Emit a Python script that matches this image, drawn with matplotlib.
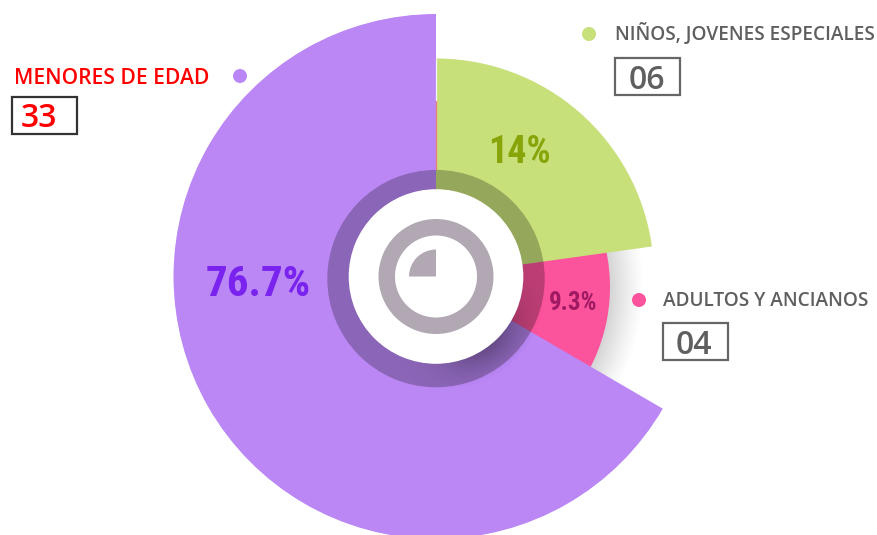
import numpy as np
import matplotlib
matplotlib.use("Agg")
import matplotlib.pyplot as plt
from matplotlib import font_manager as fm
from matplotlib.patches import Rectangle, Circle

# Data
categories = ["NIÑOS, JOVENES ESPECIALES", "ADULTOS Y ANCIANOS", "MENORES DE EDAD"]
counts = ["06", "04", "33"]
percent_labels = ["14%", "9.3%", "76.7%"]
slice_shares = [22.8, 10.6, 66.6]      # angular share of each sector
slice_radii = [218, 174, 262.5]        # radius of each sector
colors = ["#C8E07A", "#FB539C", "#BA87F5"]
percent_colors = ["#87A408", "#A01A63", "#7A22EE"]
count_colors = ["#5F5F5F", "#5F5F5F", "#FF0000"]
label_colors = ["#5F5F5F", "#5F5F5F", "#FF0000"]
box_edges = ["#666666", "#666666", "#333333"]

W, H = 878, 535
CX, CY, RMAX = 436, 276.5, 263
PINK_CY = 287
RING_CY = 278.6
installed = {f.name for f in fm.fontManager.ttflist}


def pick(*names):
    return next((n for n in names if n in installed), "DejaVu Sans")


narrow = pick("Roboto Condensed", "Fjalla One", "Francois One", "Asap Condensed", "Liberation Sans")
sans = pick("Selawik", "Segoe UI", "Open Sans")

fig = plt.figure(figsize=(W / 100, H / 100), dpi=100, facecolor="white")


def polar_layer(z, cy=CY):
    a = fig.add_axes([(CX - RMAX) / W, (H - cy - RMAX) / H, 2 * RMAX / W, 2 * RMAX / H],
                     projection="polar", zorder=z)
    a.set_theta_zero_location("N")
    a.set_theta_direction(-1)
    a.set_ylim(0, RMAX)
    a.axis("off")
    a.patch.set_alpha(0)
    return a


def pixel_layer(z):
    a = fig.add_axes([0, 0, 1, 1], facecolor="none", zorder=z)
    a.set_xlim(0, W)
    a.set_ylim(H, 0)
    a.axis("off")
    return a


def shade(a, alpha):
    img = np.zeros((H, W, 4))
    img[..., 3] = alpha
    a.imshow(img, extent=(0, W, H, 0), aspect="auto", interpolation="bilinear")
    a.set_xlim(0, W)
    a.set_ylim(H, 0)


yy, xx = np.mgrid[0:H, 0:W] + 0.5
dist = np.hypot(xx - CX, yy - CY)
ang = np.degrees(np.arctan2(xx - CX, CY - yy)) % 360
dist_p = np.hypot(xx - CX, yy - PINK_CY)

# soft shadow behind the pink sector
back = pixel_layer(0)
shade(back, 0.17 * np.clip((209 - dist_p) / 35, 0, 1) ** 1.2 * ((ang > 70) & (ang < 130)))

shares = np.array(slice_shares)
widths = 2 * np.pi * shares / shares.sum()
starts = np.concatenate([[0], np.cumsum(widths)[:-1]])

# the pink sector sits on a slightly lower centre; its neighbours overlap its sides
pink_ax = polar_layer(0.5, PINK_CY)
pad = np.radians(8)
pink_ax.bar(starts[1] - pad, slice_radii[1], width=widths[1] + 2 * pad, bottom=0,
            align="edge", color=colors[1], linewidth=0)

ax = polar_layer(1)
for i in (0, 2):
    ax.bar(starts[i], slice_radii[i], width=widths[i], bottom=0, align="edge",
           color=colors[i], linewidth=0)

# thin seam at the top of the chart
ax.plot([0, 0], [108, 177], color="#E8807F", lw=0.9)
ax.plot([0, 0], [177, 218], color="#F4F4F4", lw=0.9)

# translucent ring
ring = polar_layer(1.5, RING_CY)
ring.bar(0, 108.7 - 80, width=2 * np.pi, bottom=80, color="black", alpha=0.25, linewidth=0)

# inner shadow, lower right
mid = pixel_layer(2)
shade(mid, 0.27 * np.exp(-((ang - 142) / 30) ** 2) * np.clip((117 - dist) / 30, 0, 1) ** 1.3)

# white hub and its icon
hub = polar_layer(3)
hub.bar(0, 87.3, width=2 * np.pi, bottom=0, color="white", linewidth=0)
hub.bar(0, 57.5 - 41, width=2 * np.pi, bottom=41, color="#B1A8B3", linewidth=0)
hub.bar(1.5 * np.pi, 27, width=0.5 * np.pi, bottom=0, align="edge", color="#B1A8B3", linewidth=0)

# overlay in pixel coordinates
ov = pixel_layer(4)
PX = 0.72
pct_pos = [(519, 148.5, 38), (573.5, 300.5, 25), (258, 280.5, 43)]
for lab, c, (x, y, s) in zip(percent_labels, percent_colors, pct_pos):
    ov.text(x, y, lab, color=c, fontsize=s * PX, fontweight=800, family=narrow,
            ha="center", va="center_baseline")

label_pos = [(615, 32, 19.0), (663, 299, 19.0), (14, 76, 21.0)]
for lab, c, (x, y, s) in zip(categories, label_colors, label_pos):
    ov.text(x, y, lab, color=c, fontsize=s * PX, fontweight="semibold", family=sans,
            ha="left", va="center_baseline")

dot_pos = [(589, 34), (639, 300), (240, 76)]
for c, xy in zip(colors, dot_pos):
    ov.add_patch(Circle(xy, 7, facecolor=c, edgecolor="none"))

box_pos = [(615, 58), (663, 323), (12, 97)]
for ec, (x, y) in zip(box_edges, box_pos):
    ov.add_patch(Rectangle((x, y), 65, 37, facecolor="white", edgecolor=ec, linewidth=1.6))

count_pos = [(647, 76.5), (694, 342), (39, 114.5)]
for t, c, (x, y) in zip(counts, count_colors, count_pos):
    ov.text(x, y, t, color=c, fontsize=32 * PX, fontweight="semibold", family=sans,
            ha="center", va="center_baseline")

fig.savefig("out.png", dpi=100, facecolor="white")
